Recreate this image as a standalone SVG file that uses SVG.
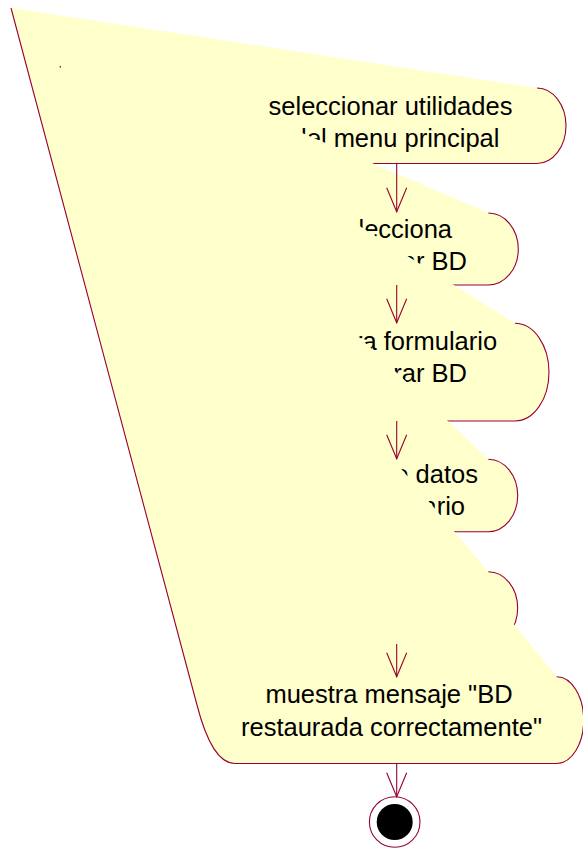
<svg xmlns="http://www.w3.org/2000/svg" width="583" height="850" viewBox="0 0 583 850">
<style>
.fill{fill:#FFFFCC;stroke:none}
.edge{fill:none;stroke:#990033;stroke-width:1.1}
.lbl{font-family:"Liberation Sans",Arial,sans-serif;font-size:25.5px;fill:#000;text-anchor:middle}
.conn{fill:none;stroke:#990033;stroke-width:1.1}
</style>
<defs>
<marker id="open" markerUnits="userSpaceOnUse" markerWidth="30" markerHeight="24" refX="25" refY="11" orient="auto">
<path d="M1,1 L25,11 L1,21" fill="none" stroke="#990033" stroke-width="1.1"/>
</marker>
</defs>
<rect width="583" height="850" fill="#fff"/>
<g id="node1">
<path class="fill" d="M11,8 L537,88 A29,37.75 0 0 1 537,163.5 L253,163.5 C236,163.5 224,150 215,125 Z"/>
<path class="edge" d="M537,88 A29,37.75 0 0 1 537,163.5 L253,163.5"/>
<text class="lbl" x="390.5" y="115">seleccionar utilidades</text>
<text class="lbl" x="396" y="146.7">del menu principal</text>
</g>
<g id="node2">
<path class="fill" d="M11,8 L488.3,213 A30,36 0 0 1 488.3,285 L302,285 C285,285 273,270 264,245 Z"/>
<path class="edge" d="M488.3,213 A30,36 0 0 1 488.3,285 L302,285"/>
<text class="lbl" x="391.8" y="238.3">selecciona</text>
<text class="lbl" x="394.7" y="270">restaurar BD</text>
</g>
<g id="node3">
<path class="fill" d="M11,8 L515,323.3 A34,48.85 0 0 1 515,421 L275,421 C258,421 246,405 237,380 Z"/>
<path class="edge" d="M515,323.3 A34,48.85 0 0 1 515,421 L275,421"/>
<text class="lbl" x="390.8" y="350">muestra formulario</text>
<text class="lbl" x="394.7" y="381.7">restaurar BD</text>
</g>
<g id="node4">
<path class="fill" d="M11,8 L488.3,459.3 A29.4,36.2 0 0 1 488.3,531.7 L302,531.7 C285,531.7 273,516 264,490 Z"/>
<path class="edge" d="M488.3,459.3 A29.4,36.2 0 0 1 488.3,531.7 L302,531.7"/>
<text class="lbl" x="390.8" y="483">introduce datos</text>
<text class="lbl" x="394.9" y="515">al formulario</text>
</g>
<g id="node5">
<path class="fill" d="M11,8 L488.3,571.7 A29.4,36.2 0 0 1 488.3,644.1 L302,644.1 C285,644.1 273,628 264,600 Z"/>
<path class="edge" d="M488.3,571.7 A29.4,36.2 0 0 1 488.3,644.1 L302,644.1"/>
</g>
<g id="node6">
<path class="fill" d="M11,8 L556.7,676.7 A27,43.4 0 0 1 556.7,763.5 L235,763.5 C218,763.5 206,740 197,705 Z"/>
<path class="edge" d="M556.7,676.7 A27,43.4 0 0 1 556.7,763.5 L235,763.5 C218,763.5 206,740 197,705 L11,8"/>
<path class="edge" d="M60,66 L60.6,67.6"/>
<text class="lbl" x="389" y="703.3">muestra mensaje "BD</text>
<text class="lbl" x="391.5" y="735.5">restaurada correctamente"</text>
</g>
<g id="final">
<circle cx="394.7" cy="822" r="25.3" fill="#fff" stroke="#990033" stroke-width="1.1"/>
<circle cx="394.7" cy="822" r="18" fill="#000"/>
</g>
<g id="connectors">
<line class="conn" x1="396.7" y1="163.5" x2="396.7" y2="211.7" marker-end="url(#open)"/>
<line class="conn" x1="396.7" y1="285" x2="396.7" y2="322.7" marker-end="url(#open)"/>
<line class="conn" x1="396.7" y1="421" x2="396.7" y2="458.7" marker-end="url(#open)"/>
<line class="conn" x1="396.7" y1="644.1" x2="396.7" y2="676.7" marker-end="url(#open)"/>
<line class="conn" x1="396.7" y1="763.5" x2="396.7" y2="796.7" marker-end="url(#open)"/>
</g>
</svg>
